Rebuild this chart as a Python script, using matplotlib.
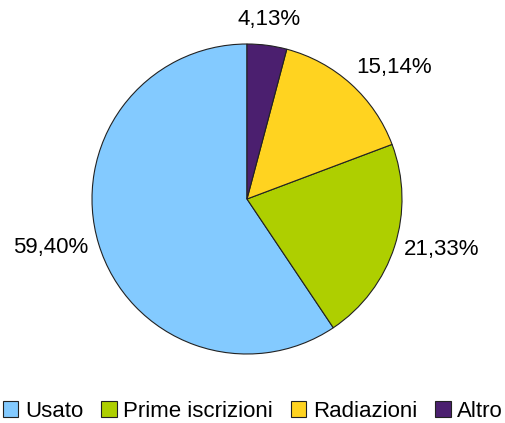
import numpy as np
import matplotlib
matplotlib.use("Agg")
import matplotlib.pyplot as plt
from matplotlib.patches import Patch

categories = ["Usato", "Prime iscrizioni", "Radiazioni", "Altro"]
values = [59.40, 21.33, 15.14, 4.13]
labels = ["59,40%", "21,33%", "15,14%", "4,13%"]
colors = ["#83CAFF", "#AECF00", "#FFD320", "#4B1F6F"]

plt.rcParams["font.family"] = ["Liberation Sans", "DejaVu Sans"]
FS = 16

W, H = 506, 423
fig = plt.figure(figsize=(W / 100, H / 100), dpi=100)
cx, cy, r = 247, 199, 155
ax = fig.add_axes([(cx - r) / W, (H - cy - r) / H, 2 * r / W, 2 * r / H])

wedges, _ = ax.pie(values, colors=colors, startangle=90, counterclock=True,
                   wedgeprops=dict(edgecolor="#222222", linewidth=0.8))
ax.set_xlim(-1, 1)
ax.set_ylim(-1, 1)
ax.set_aspect("equal")

# labels placed outside each wedge along its mid angle
dists = [1.07, 1.06, 1.05, 1.1]
for w, lab, d in zip(wedges, labels, dists):
    ang = np.deg2rad((w.theta1 + w.theta2) / 2)
    x, y = d * np.cos(ang), d * np.sin(ang)
    c, s = np.cos(ang), np.sin(ang)
    ha = "left" if c > 0.2 else ("right" if c < -0.2 else "center")
    va = "bottom" if s > 0.5 else ("top" if s < -0.5 else "center")
    ax.text(x, y, lab, ha=ha, va=va, fontsize=FS)

handles = [Patch(facecolor=c, edgecolor="#222222", linewidth=0.8) for c in colors]
fig.legend(handles, categories, loc="center", bbox_to_anchor=(0.5, 1 - 411 / H),
           ncol=4, frameon=False, fontsize=FS, handlelength=0.7, handleheight=0.7,
           handletextpad=0.3, columnspacing=0.8, borderaxespad=0, borderpad=0)

fig.savefig("out.png", dpi=100)
